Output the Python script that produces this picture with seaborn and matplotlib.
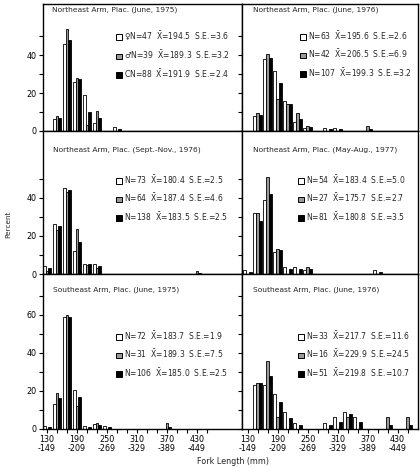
import numpy as np
import pandas as pd
import seaborn as sns
import matplotlib.pyplot as plt
from matplotlib.patches import Patch

# 20 mm fork length classes
bins = ['130-149', '150-169', '170-189', '190-209', '210-229', '230-249',
        '250-269', '270-289', '290-309', '310-329', '330-349', '350-369',
        '370-389', '390-409', '410-429', '430-449', '450-469']
tick_text = ['130\n-149', '', '', '190\n-209', '', '', '250\n-269', '', '',
             '310\n-329', '', '', '370\n-389', '', '', '430\n-449', '']

groups = ['open', 'shaded', 'solid']
colors = {'open': 'white', 'shaded': '#9a9a9a', 'solid': 'black'}

# percent in each class: open, shaded, solid bars
ne_jun75 = [[0, 6.4, 46, 26, 19, 4.3, 0, 2.1, 0, 0, 0, 0, 0, 0, 0, 0, 0],
            [0, 7.7, 54, 28, 3, 10.3, 0, 0, 0, 0, 0, 0, 0, 0, 0, 0, 0],
            [0, 6.8, 48, 27.5, 10, 6.8, 0, 1.1, 0, 0, 0, 0, 0, 0, 0, 0, 0]]
ne_jun76 = [[0, 7.9, 38, 31.7, 15.9, 4.8, 1.6, 0, 1.6, 1.6, 0, 0, 0, 0, 0, 0, 0],
            [0, 9.5, 40.5, 16.7, 14.3, 9.5, 2.4, 0, 0, 0, 0, 0, 2.4, 0, 0, 0, 0],
            [0, 8.4, 38.3, 25.2, 14, 6.5, 1.9, 0, 0.9, 0.9, 0, 0, 0.9, 0, 0, 0, 0]]
ne_sepnov76 = [[4.1, 26, 45, 12, 5.5, 5.5, 0, 0, 0, 0, 0, 0, 0, 0, 0, 0, 0],
               [1.6, 23, 43, 23.5, 4.7, 3.1, 0, 0, 0, 0, 0, 0, 0, 0, 0, 1.6, 0],
               [2.9, 25, 44, 17, 5.1, 4.4, 0, 0, 0, 0, 0, 0, 0, 0, 0, 0.7, 0]]
ne_mayaug77 = [[1.9, 32, 39, 11.5, 3.7, 3.7, 1.9, 0, 0, 0, 0, 0, 0, 1.9, 0, 0, 0],
               [0, 32, 50.7, 13, 0, 0, 3.7, 0, 0, 0, 0, 0, 0, 0, 0, 0, 0],
               [1.2, 28, 42, 12.6, 2.5, 2.5, 2.5, 0, 0, 0, 0, 0, 0, 1.2, 0, 0, 0]]
se_jun75 = [[1.4, 13.4, 59, 20.7, 1.4, 2.8, 1.4, 0, 0, 0, 0, 0, 0, 0, 0, 0, 0],
            [0, 19, 60, 12, 0, 3.2, 0, 0, 0, 0, 0, 0, 3.2, 0, 0, 0, 0],
            [0.9, 16.5, 59, 17, 0.9, 1.9, 0.9, 0, 0, 0, 0, 0, 0.9, 0, 0, 0, 0]]
se_jun76 = [[0, 23, 23, 18.4, 9.1, 3, 0, 0, 3, 6.1, 9.1, 6.1, 0, 0, 0, 0, 0],
            [0, 24.4, 36, 6.25, 0, 0, 0, 0, 0, 0, 6.25, 0, 0, 0, 6.25, 0, 6.25],
            [0, 24.4, 28, 14.4, 5.9, 2, 0, 0, 2, 3.9, 7.8, 3.9, 0, 0, 2, 0, 2]]

titles = ['Northeast Arm, Plac. (June, 1975)', 'Northeast Arm, Plac. (June, 1976)',
          'Northeast Arm, Plac. (Sept.-Nov., 1976)', 'Northeast Arm, Plac. (May-Aug., 1977)',
          'Southeast Arm, Plac. (June, 1975)', 'Southeast Arm, Plac. (June, 1976)']

XB = r'$\bar{\mathrm{X}}$'
legends = [
    ['♀N=47  ' + XB + '=194.5  S.E.=3.6', '♂N=39  ' + XB + '=189.3  S.E.=3.2', 'CN=88  ' + XB + '=191.9  S.E.=2.4'],
    ['N=63  ' + XB + '=195.6  S.E.=2.6', 'N=42  ' + XB + '=206.5  S.E.=6.9', 'N=107  ' + XB + '=199.3  S.E.=3.2'],
    ['N=73  ' + XB + '=180.4  S.E.=2.5', 'N=64  ' + XB + '=187.4  S.E.=4.6', 'N=138  ' + XB + '=183.5  S.E.=2.5'],
    ['N=54  ' + XB + '=183.4  S.E.=5.0', 'N=27  ' + XB + '=175.7  S.E.=2.7', 'N=81  ' + XB + '=180.8  S.E.=3.5'],
    ['N=72  ' + XB + '=183.7  S.E.=1.9', 'N=31  ' + XB + '=189.3  S.E.=7.5', 'N=106  ' + XB + '=185.0  S.E.=2.5'],
    ['N=33  ' + XB + '=217.7  S.E.=11.6', 'N=16  ' + XB + '=229.9  S.E.=24.5', 'N=51  ' + XB + '=219.8  S.E.=10.7'],
]
panel_data = [ne_jun75, ne_jun76, ne_sepnov76, ne_mayaug77, se_jun75, se_jun76]

sns.set_theme(style='ticks')
plt.rcParams['font.family'] = ['DejaVu Sans']
plt.rcParams['mathtext.fontset'] = 'dejavusans'

W, H = 420, 467
fig, axes = plt.subplots(3, 2, figsize=(W / 100, H / 100), dpi=100,
                         gridspec_kw={'width_ratios': [199, 176], 'height_ratios': [127, 143, 155]})
fig.subplots_adjust(left=43 / W, right=418 / W, top=1 - 4 / H, bottom=1 - 429 / H, wspace=0, hspace=0)

ytops = [67, 75, 81.5]
ytick_max = [50, 50, 70]
# pixel spots (x, y) of the panel titles and legend boxes
title_xy = [(52, 10), (253, 10), (53, 150), (253, 150), (53, 290), (253, 290)]
legend_xy = [(116, 29), (300, 29), (116, 173), (298, 173), (116, 329), (298, 329)]

handles = [Patch(facecolor=colors[g], edgecolor='black', linewidth=0.7) for g in groups]

for i, ax in enumerate(axes.flat):
    row, col = divmod(i, 2)
    vals = panel_data[i]
    df = pd.DataFrame({'bin': bins * 3,
                       'pct': vals[0] + vals[1] + vals[2],
                       'grp': np.repeat(groups, len(bins))})
    sns.barplot(data=df, x='bin', y='pct', hue='grp', order=bins, hue_order=groups,
                palette=colors, edgecolor='black', linewidth=0.6, width=0.85,
                saturation=1, errorbar=None, legend=False, ax=ax)
    ax.set_xlabel('')
    ax.set_ylabel('')
    ax.set_ylim(0, ytops[row])
    if col == 0:
        ax.set_xlim(-0.4, 19.5)
    else:
        ax.set_xlim(-0.55, 17.05)
    ax.set_xticks(range(len(bins)))
    ax.set_xticklabels(tick_text if row == 2 else [''] * len(bins), linespacing=0.95)
    yt = list(range(0, ytick_max[row] + 1, 10))
    ax.set_yticks(yt)
    ax.set_yticklabels([str(v) if (v % 20 == 0 and col == 0) else '' for v in yt])
    ax.tick_params(direction='out', length=3, width=0.8, labelsize=5.8, pad=1.5, colors='black')
    for sp in ax.spines.values():
        sp.set_visible(True)
        sp.set_linewidth(1.0)
        sp.set_color('black')

    tx, ty = title_xy[i]
    fig.text(tx / W, 1 - ty / H, titles[i], fontsize=5.4, va='center', ha='left')
    lx, ly = legend_xy[i]
    ax.legend(handles, legends[i], loc='upper left', bbox_to_anchor=(lx / W, 1 - ly / H),
              bbox_transform=fig.transFigure, frameon=False, fontsize=5.5,
              handlelength=0.8, handleheight=0.8, handletextpad=0.3,
              labelspacing=0.75, borderpad=0, borderaxespad=0)

fig.text(8 / W, 1 - 224 / H, 'Percent', rotation=90, fontsize=5.2, va='center', ha='center')
fig.text(233 / W, 1 - 462 / H, 'Fork Length (mm)', fontsize=5.8, va='center', ha='center')

fig.savefig('out.png', dpi=100, facecolor='white')
